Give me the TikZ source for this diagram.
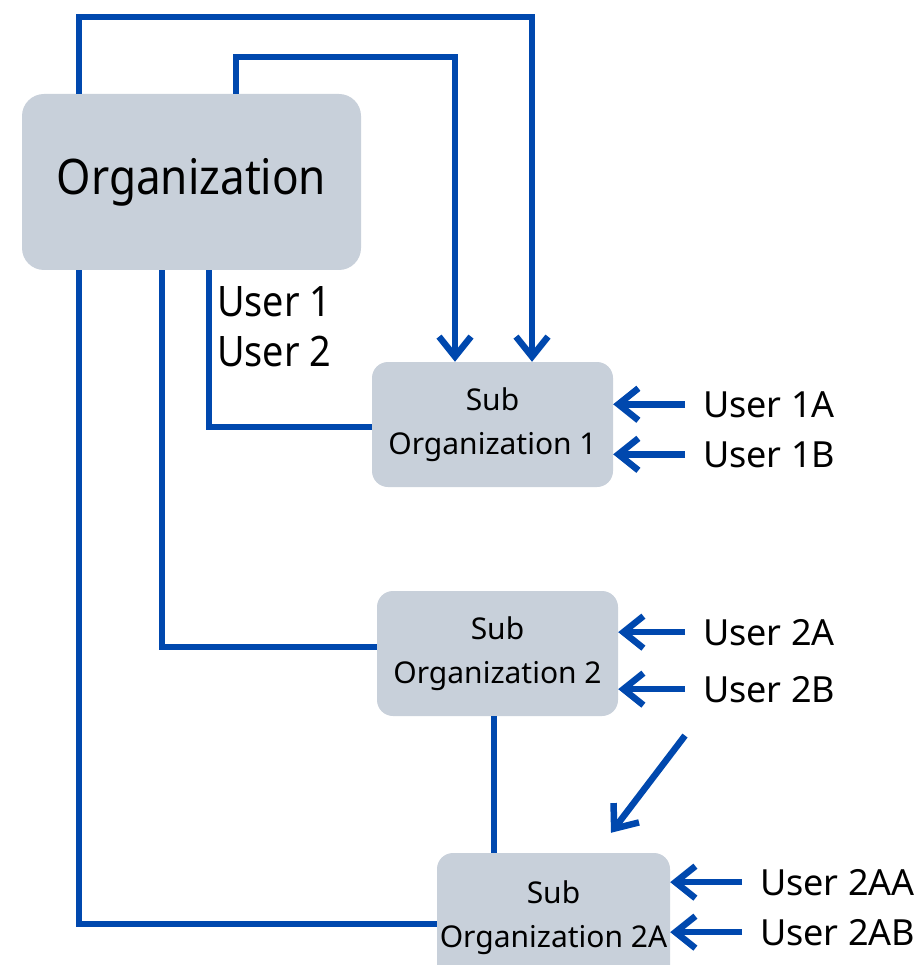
\documentclass[tikz,border=0pt]{standalone}
\usepackage{fontspec}
\setmainfont{Noto Sans}
\newfontfamily\narrowfont[FakeStretch=0.9]{Noto Sans}
\usetikzlibrary{arrows.meta}
\definecolor{linkblue}{RGB}{0,72,174}
\definecolor{boxgray}{RGB}{200,208,218}

\begin{document}
\begin{tikzpicture}[x=1pt,y=-1pt,
    box/.style={fill=boxgray, rounded corners=16pt, align=center, inner sep=0pt, font=\fontsize{30}{44}\selectfont},
    user/.style={inner sep=0pt, outer xsep=18pt, font=\fontsize{36}{44}\selectfont},
    link/.style={draw=linkblue, line width=6.5pt},
    arr/.style={link, -{Straight Barb[length=20pt,width=32pt]}}]
  \useasboundingbox (0,0) rectangle (919,965);
  \clip (0,0) rectangle (919,965);
  % boxes
  \node[box, rounded corners=22pt, minimum width=339pt, minimum height=176pt, font=\narrowfont\fontsize{49}{56}\selectfont] (org) at (191.5,182) {Organization};
  \node[box, minimum width=241pt, minimum height=125pt] (sub1) at (492.5,424.5) {Sub\\Organization 1};
  \node[box, minimum width=241pt, minimum height=125pt] (sub2) at (497.5,653.5) {Sub\\Organization 2};
  \node[box, minimum width=233pt, minimum height=130pt] (sub2a) at (553.5,918) {Sub\\Organization 2A};
  % users
  \node[anchor=west, inner sep=0pt, align=left, font=\narrowfont\fontsize{42}{50}\selectfont] (u12) at (217,327) {User 1\\User 2};
  \node[user, anchor=base west] (u1a) at (685,417) {User 1A};
  \node[user, anchor=base west] (u1b) at (685,467) {User 1B};
  \node[user, anchor=base west] (u2a) at (685,645) {User 2A};
  \node[user, anchor=base west] (u2b) at (685,702) {User 2B};
  \node[user, anchor=base west] (u2aa) at (742,895) {User 2AA};
  \node[user, anchor=base west] (u2ab) at (742,945) {User 2AB};
  % links
  \draw[arr] ([xshift=-112.5pt]org.north) -- ++(0,-77) -| ([xshift=39.5pt]sub1.north);
  \draw[arr] ([xshift=44.5pt]org.north) -- ++(0,-37) -| ([xshift=-37.5pt]sub1.north);
  \draw[link] ([xshift=17.5pt]org.south) |- ([yshift=-2.5pt]sub1.west);
  \draw[link] ([xshift=-29.5pt]org.south) |- ([yshift=6.5pt]sub2.west);
  \draw[link] ([xshift=-112.5pt]org.south) |- ([yshift=-6pt]sub2a.west);
  \draw[link] ([xshift=-3.5pt]sub2.south) -- ++(0,137);
  \foreach \u/\s in {u1a/sub1, u1b/sub1, u2a/sub2, u2b/sub2, u2aa/sub2a, u2ab/sub2a}
    \draw[arr] (\u.west) -- (\u.west -| \s.east);
  \draw[arr] ([yshift=-33pt]u2b.south west) -- ([xshift=57.5pt,yshift=20pt]sub2a.north);
\end{tikzpicture}
\end{document}
